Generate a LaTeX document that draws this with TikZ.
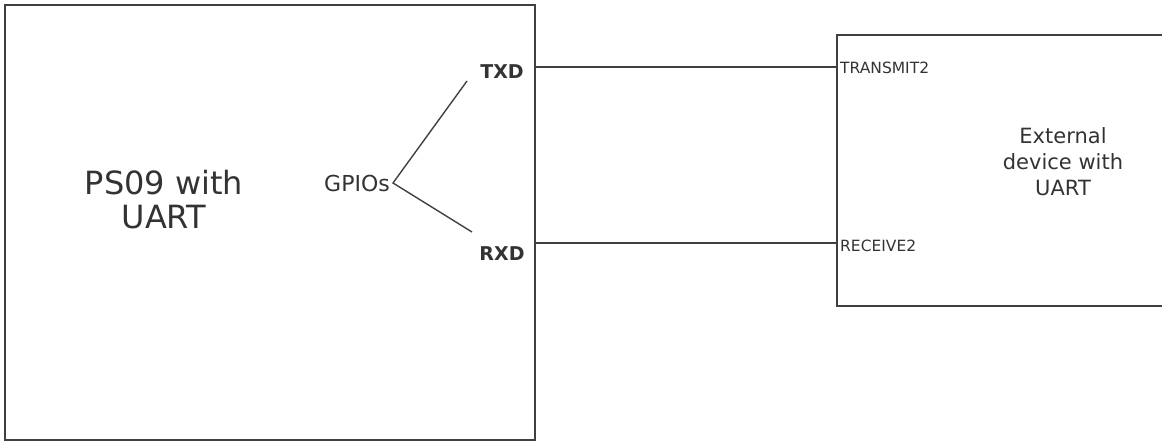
\documentclass[tikz,border=0pt]{standalone}
\usepackage{fontspec}
\setmainfont{DejaVu Sans}
\begin{document}
\begin{tikzpicture}[x=1pt,y=-1pt,
  box/.style={draw=black!75, line width=1.6pt},
  wire/.style={draw=black!75, line width=1.4pt},
  txt/.style={text=black!80, inner sep=0pt, align=center},
  pin/.style={txt, font=\fontsize{19}{22}\selectfont\bfseries},
  pinsmall/.style={txt, font=\fontsize{15.5}{18}\selectfont, anchor=west}]
\useasboundingbox (0,0) rectangle (1162,443);
\path[box] (5,5) rectangle (535,440);
\path[box] (837,35) rectangle (1175,306);
\node[txt, font=\fontsize{32}{34}\selectfont] (ps) at (164,200) {PS09 with\\UART};
\node[txt, font=\fontsize{21}{26}\selectfont] (ext) at (1063,162) {External\\device with\\UART};
\node[pin] (txd) at (502,72) {TXD};
\node[pin] (rxd) at (502,254) {RXD};
\node[txt, font=\fontsize{22}{24}\selectfont, anchor=east] (gpio) at (390,183) {GPIOs};
\coordinate (v) at (393,183);
\coordinate (t1) at (467,81);
\coordinate (r1) at (472,232);
\draw[wire] (t1) -- (v) -- (r1);
\coordinate (tl) at (535,67);
\coordinate (tr) at (837,67);
\coordinate (rl) at (535,243);
\coordinate (rr) at (837,243);
\draw[wire] (tl) -- (tr);
\draw[wire] (rl) -- (rr);
\node[pinsmall] (tx2) at (840,68) {TRANSMIT2};
\node[pinsmall] (rx2) at (840,246) {RECEIVE2};
\end{tikzpicture}
\end{document}
